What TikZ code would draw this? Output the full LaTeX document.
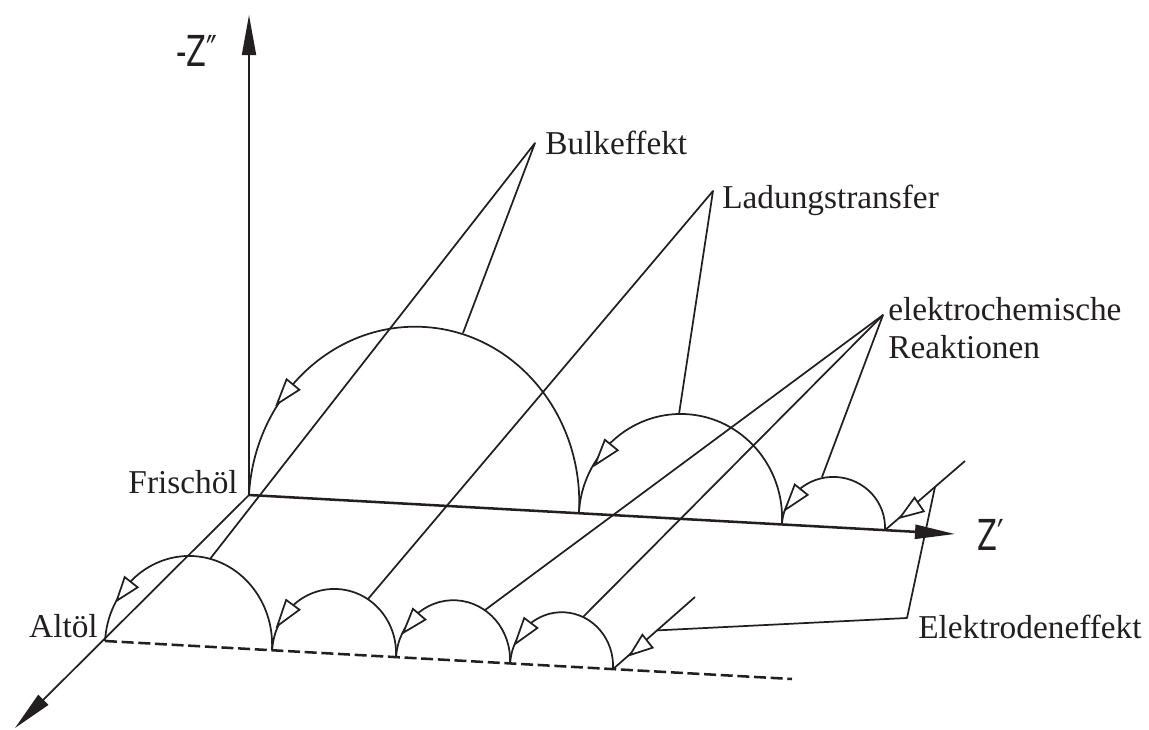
\documentclass[tikz,border=0pt]{standalone}
\usepackage{fontspec}
\setmainfont{Liberation Serif}
\newfontfamily\axfont{DejaVu Sans}
\usepackage{graphicx}
\usetikzlibrary{arrows.meta,calc}
\definecolor{ink}{RGB}{35,31,32}
\newcommand\otri[2]{\draw[opentri] (#1) -- ($(#2)!6.2pt!90:(#1)$) -- ($(#2)!6.2pt!-90:(#1)$) -- cycle;}
\begin{document}
\begin{tikzpicture}[x=0.75pt,y=-0.75pt,color=ink,line join=round,
  ln/.style={line width=1.3pt},
  thickln/.style={line width=1.9pt},
  dashline/.style={line width=1.9pt,dash pattern=on 9pt off 3.5pt},
  axisarrow/.style={-{Triangle[length=30pt,width=10.5pt]}},
  opentri/.style={draw=ink,fill=white,line width=1.3pt,line join=miter},
  lbl/.style={inner sep=0pt,font=\fontsize{25}{30}\selectfont,text=ink},
  axlbl/.style={inner sep=0pt,font=\axfont\fontsize{32}{36}\selectfont,text=ink}]
\useasboundingbox (0,0) rectangle (1149,729);

% axis points
\coordinate (O) at (249,495);
\coordinate (zTop) at (249,15);
\coordinate (zDiag) at (15,728);
\coordinate (zRight) at (955,534);

% Frischoel arc end points
\coordinate (F1) at (579,513.2);
\coordinate (F2) at (782,524.4);
\coordinate (F3) at (885,530.1);
% Altoel arc end points
\coordinate (A0) at (105,641);
\coordinate (A1) at (272,650.2);
\coordinate (A2) at (396,657.1);
\coordinate (A3) at (510,663.4);
\coordinate (A4) at (613,669.1);
\coordinate (dEnd) at (792,679);

% axes
\draw[ln,axisarrow] (O) -- (zTop);
\draw[ln,axisarrow] (O) -- (zDiag);
\draw[thickln,axisarrow] (O) -- (zRight);
\draw[dashline] (A0) -- (dEnd);

% leaders: Bulkeffekt
\coordinate (pB) at (535,143);
\coordinate (bB1) at (463,333);
\coordinate (bB2) at (210,559);
\draw[ln] (bB1) -- (pB) -- (bB2);
% Ladungstransfer
\coordinate (pL) at (713,191);
\coordinate (lL1) at (679,414);
\coordinate (lL2) at (368,599);
\draw[ln] (lL1) -- (pL) -- (lL2);
% elektrochemische Reaktionen
\coordinate (pE) at (883,315);
\coordinate (eE1) at (822,477);
\coordinate (eE2) at (485,610);
\coordinate (eE3) at (583,617);
\draw[ln] (eE1) -- (pE) -- (eE2);
\draw[ln] (pE) -- (eE3);

% Frischoel arcs
\draw[ln,rotate around={-3.16:(F1)}] (F1) arc[start angle=0,end angle=-180,x radius=165.25,y radius=177.4];
\draw[ln,rotate around={-3.16:(F2)}] (F2) arc[start angle=0,end angle=-180,x radius=101.7,y radius=104.8];
\draw[ln,rotate around={-3.16:(F3)}] (F3) arc[start angle=0,end angle=-180,x radius=51.6,y radius=50.3];
% Altoel arcs
\draw[ln,rotate around={-3.16:(A1)}] (A1) arc[start angle=0,end angle=-180,x radius=83.6,y radius=89.6];
\draw[ln,rotate around={-3.16:(A2)}] (A2) arc[start angle=0,end angle=-180,x radius=62,y radius=64.7];
\draw[ln,rotate around={-3.16:(A3)}] (A3) arc[start angle=0,end angle=-180,x radius=57,y radius=60];
\draw[ln,rotate around={-3.16:(A4)}] (A4) arc[start angle=0,end angle=-180,x radius=51.5,y radius=54];

% electrode effect lines
\coordinate (fE) at (965,461);
\coordinate (aE) at (695,597);
\draw[ln] (fE) -- (F3);
\draw[ln] (aE) -- (A4);
% Elektrodeneffekt leader
\coordinate (elC) at (907,618);
\draw[ln] ($(fE)!0.375!(F3)$) -- (elC) -- ($(aE)!0.463!(A4)$);

% direction triangles (tip, base centre)
\otri{277,404}{293,384.5}
\otri{595,465}{611.3,445}
\otri{785,510}{801.2,489.7}
\otri{900,517.7}{919.2,504.5}
\otri{116.7,600.7}{131.2,582.2}
\otri{277.3,626}{292.8,604.8}
\otri{403.3,632.7}{419.2,614.2}
\otri{515,644}{530.8,623}
\otri{630,655}{647.5,641.2}

% labels
\node[axlbl,anchor=base west] (lzz) at (176,66) {\scalebox{0.68}[1]{-Z″}};
\node[axlbl,anchor=base west] (lz) at (977,550) {\scalebox{0.68}[1]{Z′}};
\node[lbl,anchor=base east] (lfr) at (238,493) {Frischöl};
\node[lbl,anchor=base east] (lal) at (98,637) {Altöl};
\node[lbl,anchor=base west] (lbu) at (545,154) {Bulkeffekt};
\node[lbl,anchor=base west] (lla) at (722,208) {Ladungstransfer};
\node[lbl,anchor=base west] (lec1) at (888,320) {elektrochemische};
\node[lbl,anchor=base west] (lec2) at (888,358) {Reaktionen};
\node[lbl,anchor=base west] (lel) at (918,638) {Elektrodeneffekt};
\end{tikzpicture}
\end{document}
